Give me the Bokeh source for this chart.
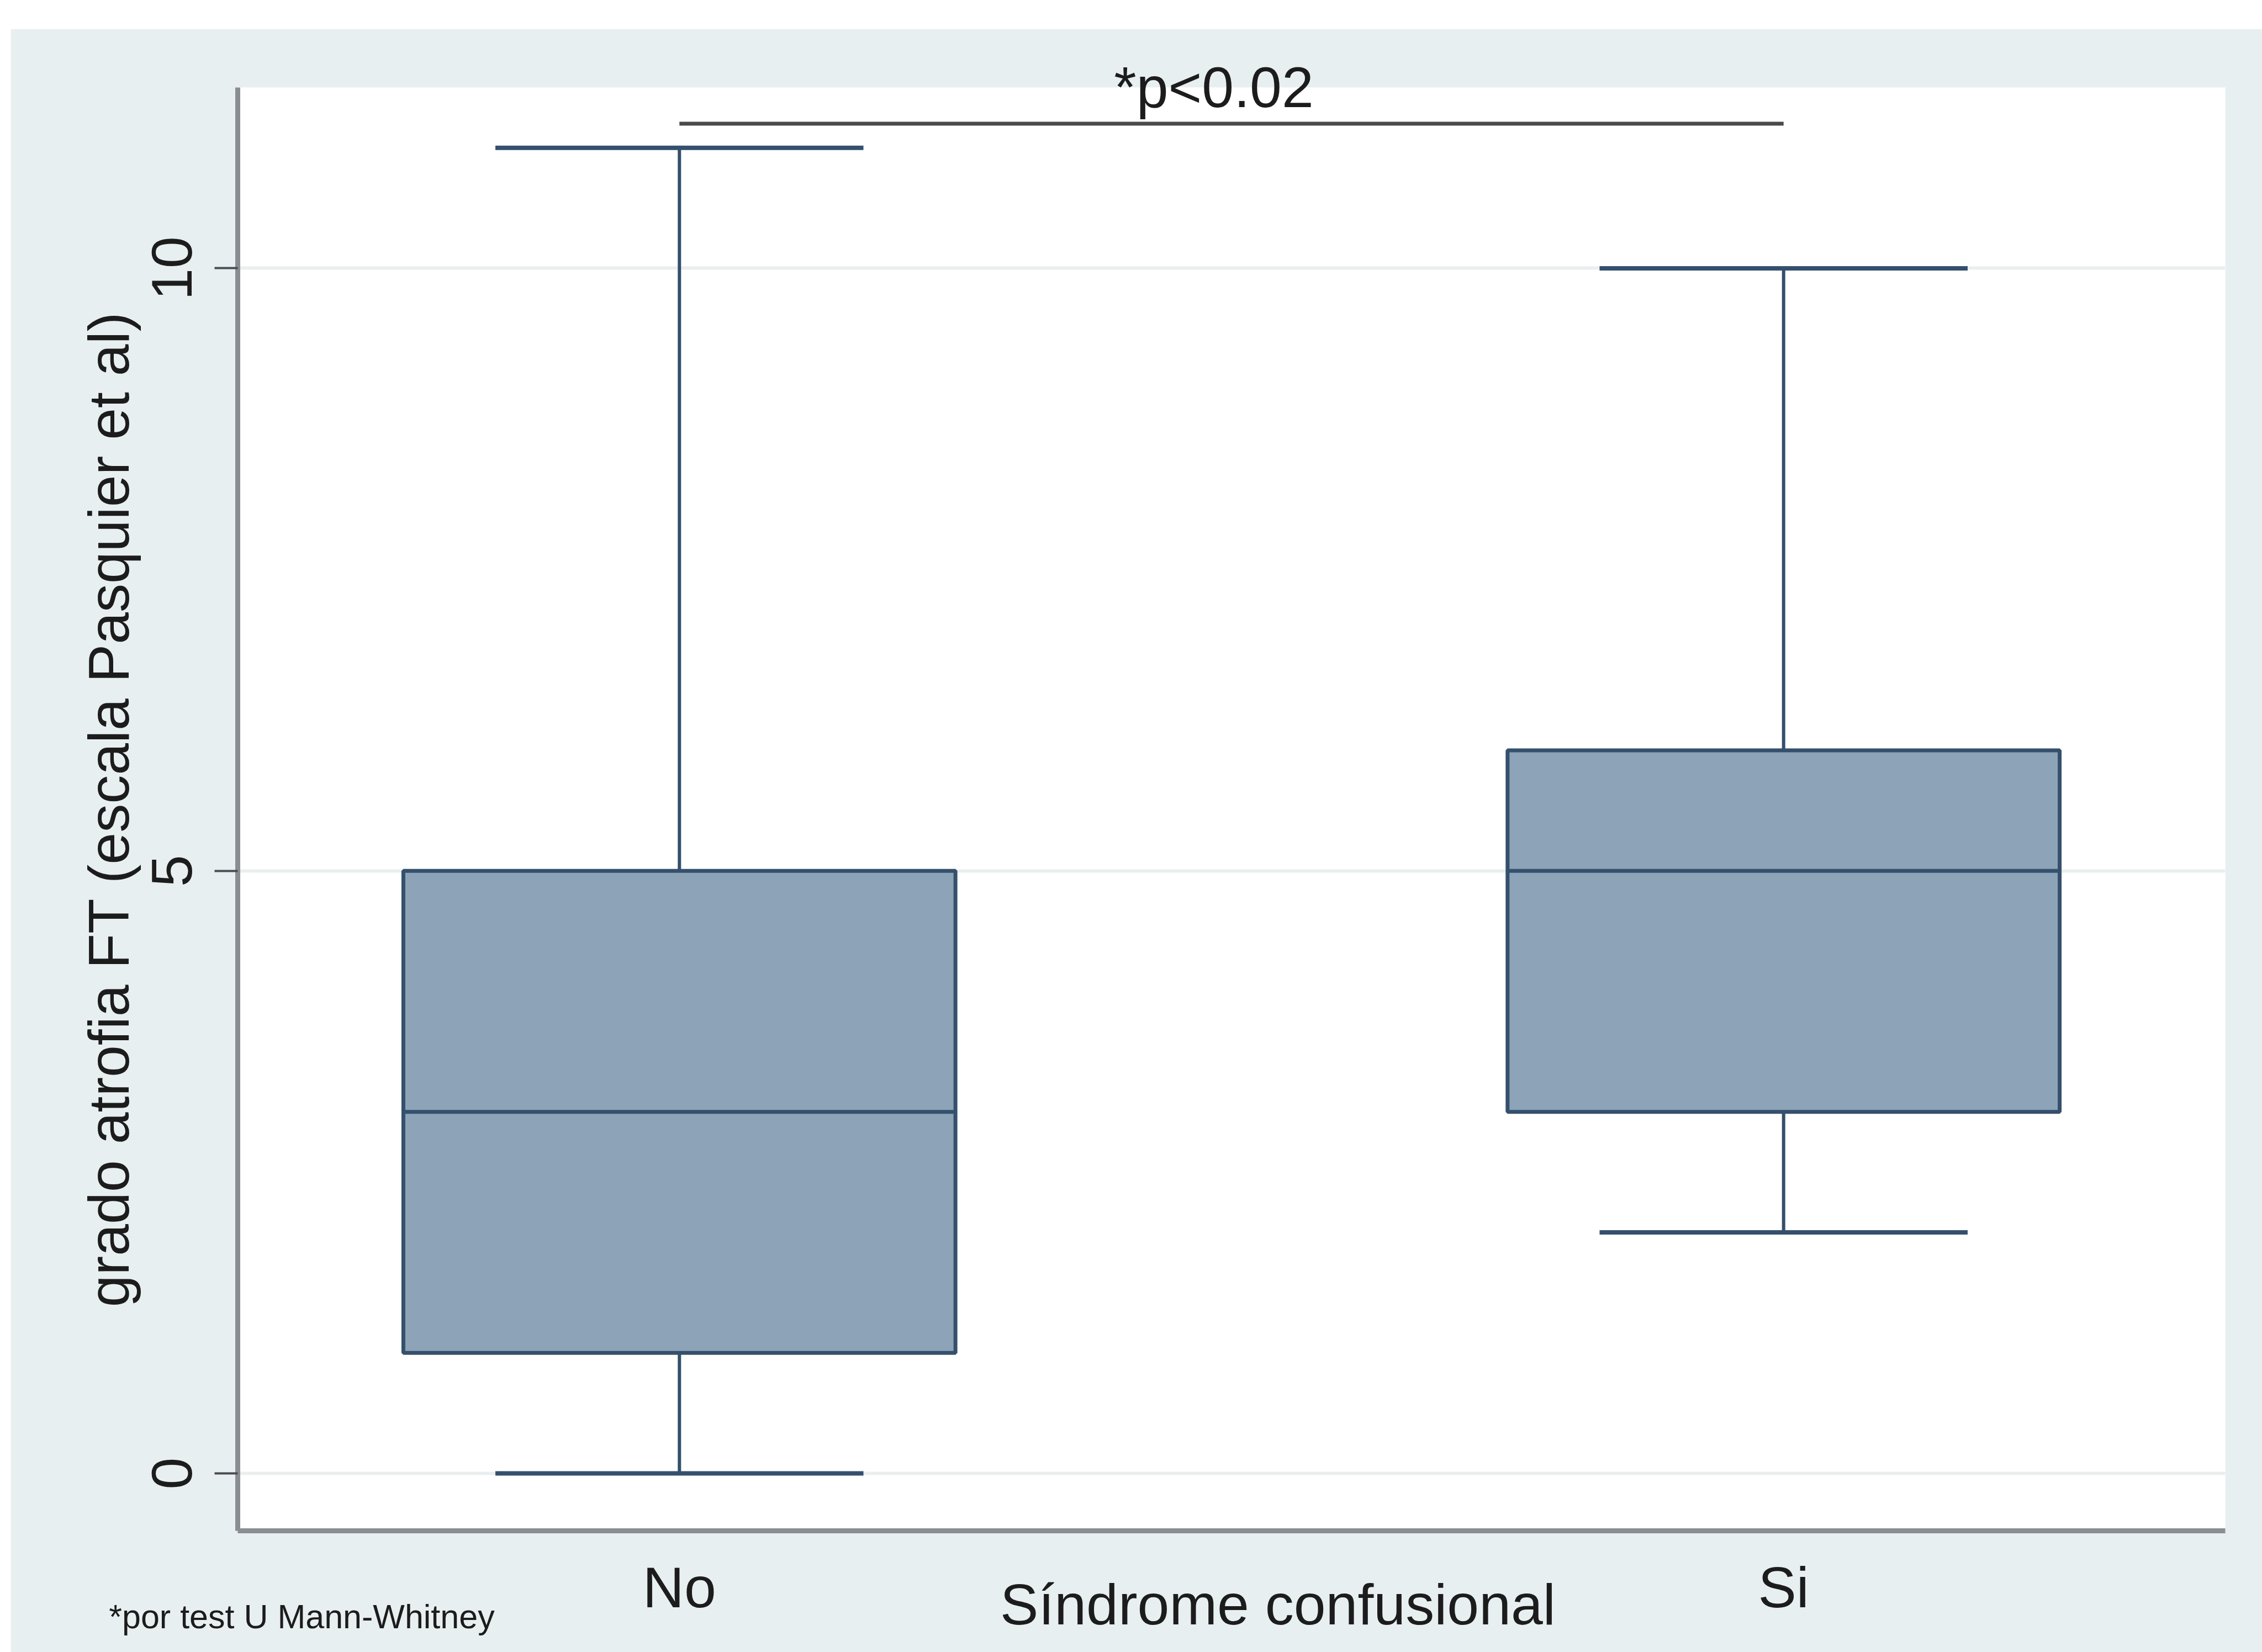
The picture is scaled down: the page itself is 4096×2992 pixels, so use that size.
import math

from bokeh.embed import file_html
from bokeh.models import FixedTicker, LinearAxis, Range1d
from bokeh.plotting import figure
from bokeh.resources import INLINE

# Grado de atrofia FT por grupo de síndrome confusional (resumen del box plot)
groups = ["No", "Si"]
q1 = [1, 3]
median = [3, 5]
q3 = [5, 6]
whisker_low = [0, 2]
whisker_high = [11, 10]
y_ticks = [0, 5, 10]

x_title = "Síndrome confusional"
y_title = "grado atrofia FT (escala Pasquier et al)"
p_label = "*p<0.02"
footnote = "*por test U Mann-Whitney"

FONT = "Liberation Sans"
TEXT = "#1c1c1c"
BOX_FILL = "#8ca3b8"
BOX_LINE = "#34506d"
REGION = "#e8eff1"

pos = list(range(len(groups)))
box_w = 0.5
cap_w = box_w * 2 / 3

p = figure(
    width=4077, height=2940,
    output_backend="svg", toolbar_location=None,
    x_range=Range1d(-0.4, 1.4), y_range=Range1d(-0.476, 11.5),
    min_border_left=411, min_border_right=67,
    min_border_top=106, min_border_bottom=220,
)
p.margin = (52, 0, 0, 19)
p.background_fill_color = "white"
p.border_fill_color = REGION
p.outline_line_color = None

# grid
p.xgrid.visible = False
p.ygrid.ticker = FixedTicker(ticks=y_ticks)
p.ygrid.grid_line_color = "#ebeeef"
p.ygrid.grid_line_width = 6

# main axes
xax = p.below[0]
yax = p.left[0]
for ax in (xax, yax):
    ax.axis_line_color = "#8a8d91"
    ax.axis_line_width = 9
    ax.major_tick_line_color = "#4a4d52"
    ax.major_tick_line_width = 4
    ax.minor_tick_line_color = None
    ax.major_label_text_font = FONT
    ax.major_label_text_font_size = "104px"
    ax.major_label_text_color = TEXT

xax.ticker = FixedTicker(ticks=pos)
xax.major_label_overrides = {i: g for i, g in zip(pos, groups)}
xax.major_tick_out = 0
xax.major_tick_in = 0
xax.major_label_standoff = 44

yax.ticker = FixedTicker(ticks=y_ticks)
yax.major_tick_out = 42
yax.major_tick_in = 0
yax.major_label_orientation = "vertical"
yax.major_label_standoff = 41
yax.axis_label = y_title
yax.axis_label_text_font = FONT
yax.axis_label_text_font_size = "104px"
yax.axis_label_text_font_style = "normal"
yax.axis_label_text_color = TEXT
yax.axis_label_standoff = 18


def text_axis(side, at, text, size, standoff):
    """A bare axis whose single tick label carries a free-standing text."""
    ax = LinearAxis(
        ticker=FixedTicker(ticks=[at]),
        major_label_overrides={at: text},
        axis_line_color=None,
        major_tick_line_color=None,
        minor_tick_line_color=None,
        major_tick_out=0,
        major_tick_in=0,
        major_label_text_font=FONT,
        major_label_text_font_size=size,
        major_label_text_color=TEXT,
        major_label_standoff=standoff,
    )
    p.add_layout(ax, side)


# footnote, x title and significance text
text_axis("below", -0.342, footnote, "61px", -42)
text_axis("below", 0.542, x_title, "104px", -117)
text_axis("above", 0.484, p_label, "104px", -57)

# whiskers and caps
p.segment(x0=pos, x1=pos, y0=q3, y1=whisker_high, line_color=BOX_LINE, line_width=6)
p.segment(x0=pos, x1=pos, y0=whisker_low, y1=q1, line_color=BOX_LINE, line_width=6)
p.segment(x0=[x - cap_w / 2 for x in pos], x1=[x + cap_w / 2 for x in pos],
          y0=whisker_high, y1=whisker_high, line_color=BOX_LINE, line_width=8)
p.segment(x0=[x - cap_w / 2 for x in pos], x1=[x + cap_w / 2 for x in pos],
          y0=whisker_low, y1=whisker_low, line_color=BOX_LINE, line_width=8)

# boxes and medians
p.vbar(x=pos, width=box_w, bottom=q1, top=q3,
       fill_color=BOX_FILL, line_color=BOX_LINE, line_width=7)
p.segment(x0=[x - box_w / 2 for x in pos], x1=[x + box_w / 2 for x in pos],
          y0=median, y1=median, line_color=BOX_LINE, line_width=7)

# significance bracket between the two groups
bracket_y = max(whisker_high) + 0.2
p.segment(x0=[pos[0]], x1=[pos[-1]], y0=[bracket_y], y1=[bracket_y],
          line_color="#4a4a4a", line_width=7)

open("out.html", "w").write(file_html(p, INLINE))
